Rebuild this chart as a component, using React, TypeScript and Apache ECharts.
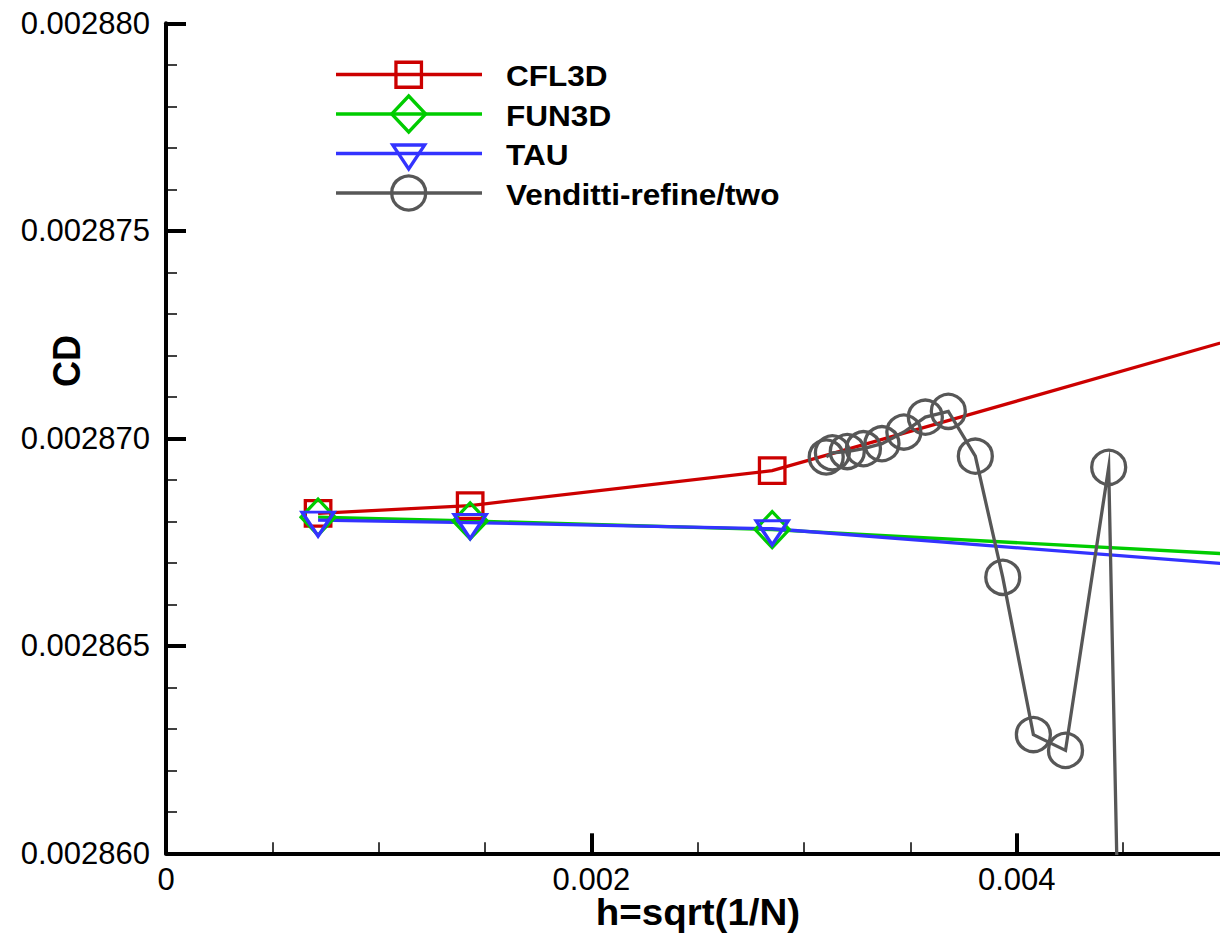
import React, { useEffect, useRef } from "react";
import * as echarts from "echarts";

// ---- data ----
const cfl3dH = [0.000715, 0.00143, 0.00285, 0.0057];
const cfl3dCD = [0.00286819, 0.00286838, 0.00286922, 0.00287338];

const fun3dH = [0.000715, 0.00143, 0.00285, 0.0057];
const fun3dCD = [0.0028681, 0.00286801, 0.0028678, 0.00286702];

const tauH = [0.000715, 0.00143, 0.00285, 0.0057];
const tauCD = [0.00286803, 0.00286797, 0.00286782, 0.00286669];

const vendH = [
  0.003104, 0.003133, 0.003203, 0.003279, 0.003366, 0.003469, 0.00357,
  0.003678, 0.003805, 0.003934, 0.004078, 0.004229, 0.004432, 0.00449,
];
const vendCD = [
  0.00286955, 0.00286965, 0.00286968, 0.00286975, 0.00286987, 0.00287015,
  0.00287051, 0.00287065, 0.00286957, 0.00286665, 0.00286286, 0.00286248,
  0.0028693, 0.002855,
];

const xTickLabels = ["0", "0.002", "0.004"];

const legendNames = ["CFL3D", "FUN3D", "TAU", "Venditti-refine/two"];
const colors = ["#cc0000", "#00cc00", "#3333ff", "#575757"];

const xTitle = "h=sqrt(1/N)";
const yTitle = "CD";

const zip = (a: number[], b: number[]) => a.map((v, i) => [v, b[i]]);

export default function App() {
  const ref = useRef<HTMLDivElement>(null);

  useEffect(() => {
    if (!ref.current) return;
    const chart = echarts.init(ref.current, undefined, { renderer: "svg" });
    const FONT = '"Liberation Sans", Arial, Helvetica, sans-serif';
    const pxPerUnit = 212.7 / 0.001;
    const gridLeft = 166;
    const gridTop = 23.3;
    const gridH = 830;
    const xMax = 0.006;

    const rowsY = [74.5, 114, 153.5, 193];
    const lx1 = 336,
      lx2 = 482,
      lcx = 408.7;

    const legendGraphics: any[] = [];
    rowsY.forEach((y, i) => {
      legendGraphics.push({
        type: "line",
        shape: { x1: lx1, y1: y, x2: lx2, y2: y },
        style: { stroke: colors[i], lineWidth: 3.3 },
        silent: true,
      });
      legendGraphics.push({
        type: "text",
        x: 506,
        y: y + 1,
        scaleX: 1.07,
        style: {
          text: legendNames[i],
          font: `bold 29.5px ${FONT}`,
          fill: "#000",
          align: "left",
          verticalAlign: "middle",
        },
        silent: true,
      });
    });
    // legend markers
    legendGraphics.push({
      type: "rect",
      shape: { x: lcx - 12.75, y: rowsY[0] - 12.25, width: 25.5, height: 25 },
      style: { fill: "none", stroke: colors[0], lineWidth: 3.3 },
      silent: true,
    });
    legendGraphics.push({
      type: "polygon",
      shape: {
        points: [
          [lcx, rowsY[1] - 18],
          [lcx + 17, rowsY[1]],
          [lcx, rowsY[1] + 18],
          [lcx - 17, rowsY[1]],
        ],
      },
      style: { fill: "none", stroke: colors[1], lineWidth: 3.3, lineJoin: "miter" },
      silent: true,
    });
    legendGraphics.push({
      type: "polygon",
      shape: {
        points: [
          [lcx - 16, rowsY[2] - 8.5],
          [lcx + 16, rowsY[2] - 8.5],
          [lcx, rowsY[2] + 15.5],
        ],
      },
      style: { fill: "none", stroke: colors[2], lineWidth: 3.3, lineJoin: "miter" },
      silent: true,
    });
    legendGraphics.push({
      type: "circle",
      shape: { cx: lcx, cy: rowsY[3], r: 17 },
      style: { fill: "none", stroke: colors[3], lineWidth: 3.3 },
      silent: true,
    });
    // axis titles
    legendGraphics.push({
      type: "text",
      x: 698,
      y: 912,
      scaleX: 1.07,
      style: {
        text: xTitle,
        font: `bold 36px ${FONT}`,
        fill: "#000",
        align: "center",
        verticalAlign: "middle",
      },
      silent: true,
    });
    legendGraphics.push({
      type: "text",
      x: 67,
      y: 361,
      rotation: Math.PI / 2,
      scaleY: 1.07,
      style: {
        text: yTitle,
        font: `bold 36px ${FONT}`,
        fill: "#000",
        align: "center",
        verticalAlign: "middle",
      },
      silent: true,
    });

    const lineSeries = (
      name: string,
      data: number[][],
      color: string,
      symbol: string,
      symbolSize: any,
      symbolOffset: any = [0, 0]
    ) => ({
      name,
      type: "line",
      data,
      symbol,
      symbolSize,
      symbolOffset,
      showSymbol: true,
      silent: true,
      clip: true,
      lineStyle: { color, width: 3.3, join: "miter", miterLimit: 20 },
      itemStyle: {
        color: "transparent",
        borderColor: color,
        borderWidth: 3.3,
        borderJoin: "miter",
      },
      emphasis: { disabled: true },
    });

    chart.setOption({
      animation: false,
      backgroundColor: "#fff",
      grid: {
        left: gridLeft,
        top: gridTop,
        width: xMax * pxPerUnit,
        height: gridH,
        containLabel: false,
        outerBoundsMode: "none",
      },
      xAxis: {
        type: "value",
        min: 0,
        max: xMax,
        interval: 0.002,
        axisLine: { show: true, onZero: false, lineStyle: { color: "#000", width: 4 } },
        axisTick: { show: true, inside: true, length: 20, lineStyle: { color: "#000", width: 4 } },
        minorTick: { show: true, splitNumber: 4, length: 11, lineStyle: { color: "#000", width: 1.5 } },
        splitLine: { show: false },
        minorSplitLine: { show: false },
        axisLabel: {
          color: "#000",
          fontFamily: FONT,
          fontSize: 31,
          margin: 11,
          showMaxLabel: false,
          formatter: (v: number) => {
            const i = Math.round(v / 0.002);
            return i < xTickLabels.length ? xTickLabels[i] : "";
          },
        },
      },
      yAxis: {
        type: "value",
        min: 0.00286,
        max: 0.00288,
        interval: 0.000005,
        axisLine: { show: true, onZero: false, lineStyle: { color: "#000", width: 4 } },
        axisTick: { show: true, inside: true, length: 20, lineStyle: { color: "#000", width: 4 } },
        minorTick: { show: true, splitNumber: 5, length: 11, lineStyle: { color: "#000", width: 1.5 } },
        splitLine: { show: false },
        minorSplitLine: { show: false },
        axisLabel: {
          color: "#000",
          fontFamily: FONT,
          fontSize: 31,
          margin: 16,
          formatter: (v: number) => v.toFixed(6),
        },
      },
      graphic: legendGraphics,
      series: [
        lineSeries(legendNames[0], zip(cfl3dH, cfl3dCD), colors[0], "rect", 25.5),
        lineSeries(legendNames[1], zip(fun3dH, fun3dCD), colors[1], "diamond", [34, 36]),
        lineSeries(
          legendNames[2],
          zip(tauH, tauCD),
          colors[2],
          "path://M0 0 L32 0 L16 24 Z",
          [32, 24],
          [0, 4]
        ),
        lineSeries(legendNames[3], zip(vendH, vendCD), colors[3], "circle", 34),
      ],
    });

    return () => chart.dispose();
  }, []);

  return (
    <div
      style={{
        position: "fixed",
        left: 0,
        top: 0,
        width: 1220,
        height: 933,
        overflow: "hidden",
        background: "#fff",
      }}
    >
      <div ref={ref} style={{ width: 1500, height: 933 }} />
    </div>
  );
}
